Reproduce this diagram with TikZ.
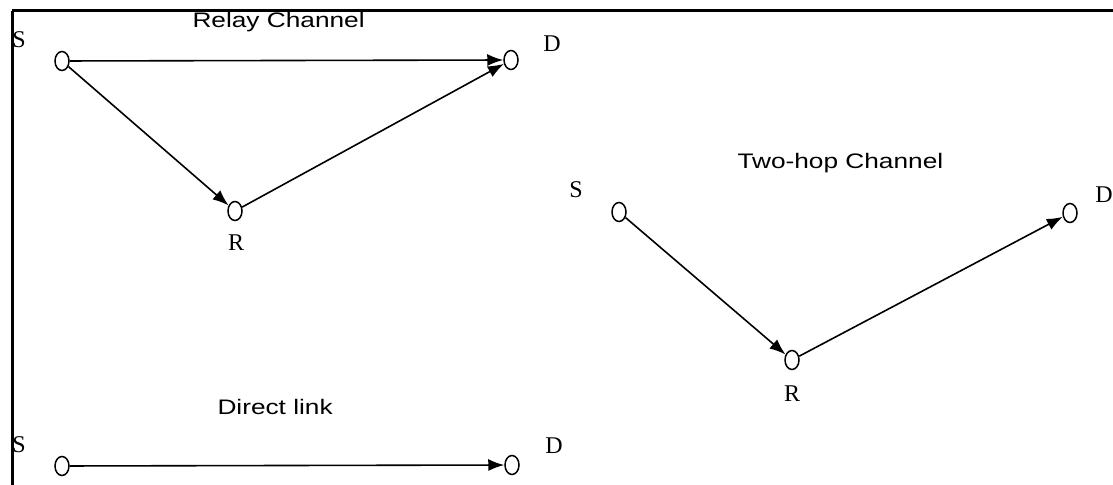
\documentclass[tikz,border=0pt]{standalone}
\usepackage{fontspec}
\setmainfont{Liberation Serif}
\newfontfamily\titlefont{Liberation Sans}
\usetikzlibrary{shapes.geometric,arrows.meta}
\tikzset{
  nd/.style={draw, ellipse, line width=0.75pt, minimum width=7pt, minimum height=9.5pt, inner sep=0pt},
  lbl/.style={font=\fontsize{12}{14}\selectfont, inner sep=0pt},
  ttl/.style={font=\titlefont\fontsize{10.5}{12}\selectfont, inner sep=0pt, anchor=base west, xscale=1.25},
  arr/.style={line width=0.8pt, -{Latex[length=8pt,width=6pt]}},
  frame/.style={line width=1.5pt}
}
\begin{document}
\begin{tikzpicture}[x=0.5pt,y=-0.5pt]
\clip (0,0) rectangle (1113,485);
\fill[white] (0,0) rectangle (1113,485);
\draw[frame] (12,11) -- (1113,11);
\draw[frame] (12,11) -- (12,485);
% Relay channel
\node[ttl] (t1) at (192,28) {Relay Channel};
\node[nd] (rS) at (62,61) {};
\node[nd] (rD) at (511,60) {};
\node[nd] (rR) at (235,211) {};
\node[lbl] (rSl) at (19,40) {S};
\node[lbl] (rDl) at (552,44) {D};
\node[lbl] (rRl) at (236,243) {R};
\draw[arr] (rS) -- (rD);
\draw[arr] (rS) -- (rR);
\draw[arr] (rR) -- (rD);
% Two-hop channel
\node[ttl] (t2) at (737,169) {Two-hop Channel};
\node[nd] (hS) at (619,212) {};
\node[nd] (hR) at (792,360) {};
\node[nd] (hD) at (1070,213) {};
\node[lbl] (hSl) at (576,190) {S};
\node[lbl] (hRl) at (792,394) {R};
\node[lbl] (hDl) at (1104,195) {D};
\draw[arr] (hS) -- (hR);
\draw[arr] (hR) -- (hD);
% Direct link
\node[ttl] (t3) at (217,415) {Direct link};
\node[nd] (dS) at (62,466) {};
\node[nd] (dD) at (512,465) {};
\node[lbl] (dSl) at (19,445) {S};
\node[lbl] (dDl) at (554,446) {D};
\draw[arr] (dS) -- (dD);
\end{tikzpicture}
\end{document}
